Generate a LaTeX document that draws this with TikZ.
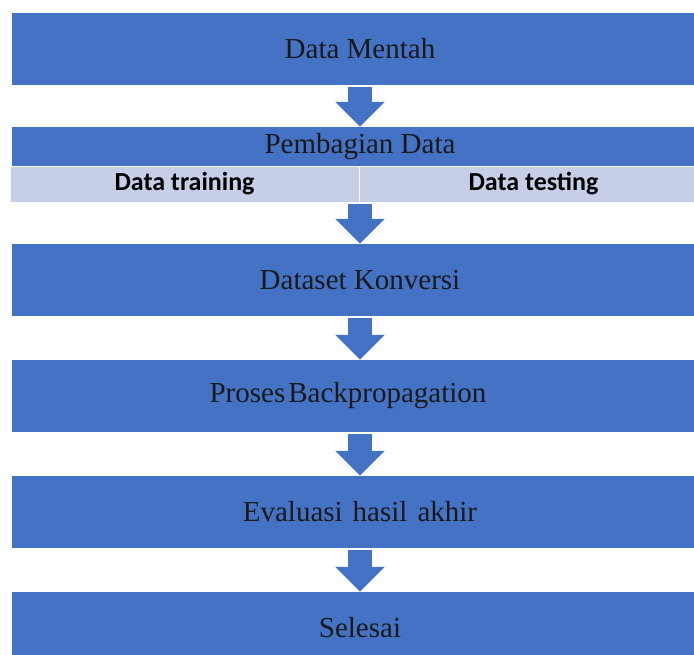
\documentclass[tikz,border=0pt]{standalone}
\usepackage{fontspec}
\setmainfont{Liberation Serif}
\newfontfamily\cellfont{Carlito}
\usetikzlibrary{arrows.meta}

\definecolor{boxblue}{RGB}{68,114,196}
\definecolor{celltint}{RGB}{199,206,231}
\def\midx{360}

\begin{document}
\begin{tikzpicture}[x=1pt,y=-1pt,
    stepbox/.style={fill=boxblue,text=black!90,minimum width=696pt,
      minimum height=72pt,inner sep=0pt,font=\fontsize{29}{34}\selectfont},
    cellbox/.style={fill=celltint,draw=white!85!celltint,line width=0.8pt,
      minimum width=349pt,minimum height=36pt,inner sep=0pt,
      font=\cellfont\bfseries\fontsize{26}{30}\selectfont},
    flow/.style={draw=boxblue,line width=24pt,
      -{Triangle[length=25pt,width=48pt]},shorten <=2pt}]
  \useasboundingbox (0,0) rectangle (694,655);
  \clip (0,0) rectangle (694,655);
  % steps of the flow
  \foreach \y/\name/\label in {
      49/mentah/Data Mentah,
      280/konversi/Dataset Konversi,
      396/backprop/{Proses\kern3pt Backpropagation\kern24pt},
      512/evaluasi/Evaluasi\hspace{10pt}hasil\hspace{10pt}akhir,
      628/selesai/Selesai
    } {
      \node[stepbox] (\name) at (\midx,\y) {\label};
    };
  % split of the data
  \node[stepbox,minimum height=39pt] (bagi) at (\midx,146.5) {Pembagian Data};
  \node[cellbox] (training) at (184.5,184) {Data training};
  \node[cellbox] (testing) at (533.5,184) {Data testing};
  % arrows between the steps
  \draw[flow] (mentah.south) -- (bagi.north);
  \draw[flow] (konversi.north |- training.south) -- (konversi.north);
  \foreach \from/\to in {konversi/backprop, backprop/evaluasi, evaluasi/selesai}
    \draw[flow] (\from.south) -- (\to.north);
\end{tikzpicture}
\end{document}
